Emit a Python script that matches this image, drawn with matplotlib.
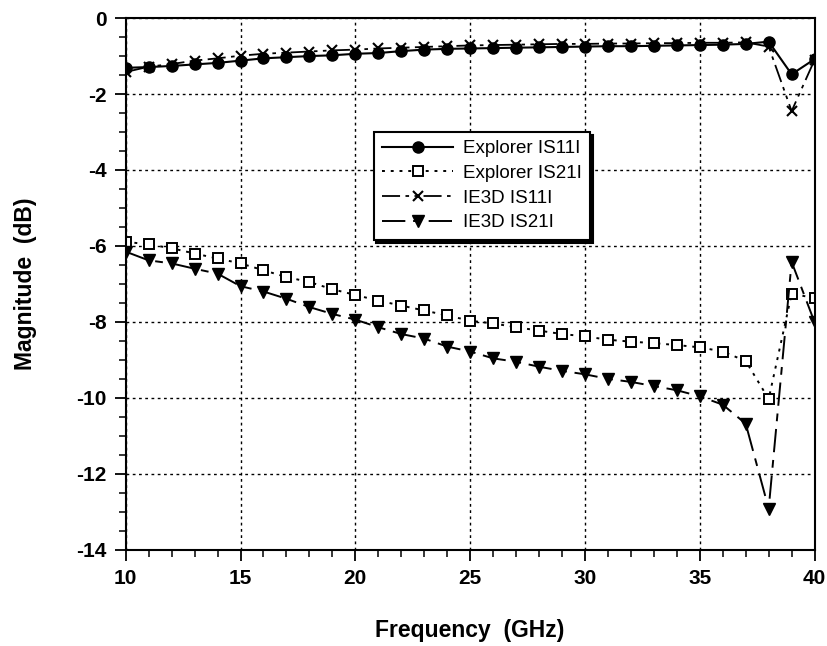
import matplotlib
matplotlib.use("Agg")
import matplotlib.pyplot as plt
from matplotlib.ticker import MultipleLocator

plt.rcParams['font.family'] = ['Liberation Sans', 'DejaVu Sans']
plt.rcParams['axes.unicode_minus'] = False

freq = list(range(10, 41))

explorer_s11 = [-1.31, -1.29, -1.26, -1.22, -1.18, -1.12, -1.06, -1.03, -1.00, -0.98,
                -0.94, -0.92, -0.87, -0.83, -0.81, -0.80, -0.79, -0.78, -0.77, -0.76,
                -0.75, -0.74, -0.74, -0.73, -0.72, -0.71, -0.70, -0.68, -0.62, -1.48,
                -1.08]
explorer_s21 = [-5.89, -5.96, -6.06, -6.20, -6.33, -6.46, -6.64, -6.82, -6.95, -7.14,
                -7.29, -7.44, -7.57, -7.70, -7.83, -7.97, -8.04, -8.14, -8.23, -8.32,
                -8.38, -8.47, -8.52, -8.56, -8.61, -8.67, -8.78, -9.03, -10.03, -7.26,
                -7.37]
ie3d_s11 = [-1.42, -1.28, -1.21, -1.12, -1.06, -0.99, -0.94, -0.91, -0.88, -0.85,
            -0.83, -0.80, -0.78, -0.76, -0.74, -0.72, -0.71, -0.70, -0.69, -0.68,
            -0.68, -0.67, -0.67, -0.66, -0.66, -0.65, -0.65, -0.64, -0.75, -2.45,
            -1.10]
ie3d_s21 = [-6.15, -6.38, -6.46, -6.60, -6.73, -7.06, -7.20, -7.39, -7.61, -7.79,
            -7.94, -8.14, -8.32, -8.44, -8.65, -8.78, -8.96, -9.05, -9.18, -9.29,
            -9.38, -9.50, -9.58, -9.69, -9.80, -9.96, -10.18, -10.68, -12.92, -6.42,
            -8.01]

fig = plt.figure(figsize=(8.27, 6.46), dpi=100)
ax = fig.add_axes([0.152, 0.149, 0.833, 0.823])

ax.plot(freq, explorer_s11, color='black', lw=1.5, linestyle='-',
        marker='o', ms=8, label='Explorer IS11I')
ax.plot(freq, explorer_s21, color='black', lw=1.4, linestyle=(0, (1.5, 3)),
        marker='s', ms=7, mfc='white', mec='black', mew=1.4, label='Explorer IS21I')
ax.plot(freq, ie3d_s11, color='black', lw=1.3, linestyle=(0, (10, 3, 2, 3, 2, 3)),
        marker='x', ms=7, mew=1.5, label='IE3D IS11I')
ax.plot(freq, ie3d_s21, color='black', lw=1.4, linestyle=(0, (12, 4, 4, 4)),
        marker='v', ms=9, label='IE3D IS21I')

ax.set_xlim(10, 40)
ax.set_ylim(-14, 0)
ax.xaxis.set_major_locator(MultipleLocator(5))
ax.xaxis.set_minor_locator(MultipleLocator(1))
ax.yaxis.set_major_locator(MultipleLocator(2))
ax.yaxis.set_minor_locator(MultipleLocator(0.5))
ax.tick_params(which='major', direction='out', length=8, width=1.3, labelsize=15, pad=6)
ax.tick_params(which='minor', direction='out', length=5, width=1.1)
for lab in ax.get_xticklabels() + ax.get_yticklabels():
    lab.set_fontweight('bold')

ax.grid(True, which='major', color='black', linestyle=(0, (2, 2.5)), linewidth=1)
for s in ax.spines.values():
    s.set_linewidth(1.5)

ax.set_xlabel('Frequency  (GHz)', fontsize=16.5, fontweight='bold', labelpad=22)
ax.set_ylabel('Magnitude  (dB)', fontsize=16.5, fontweight='bold', labelpad=28)

leg = ax.legend(loc='upper left', bbox_to_anchor=(0.36, 0.786), fontsize=13.5,
                handlelength=3.8, frameon=True, fancybox=False, edgecolor='black',
                framealpha=1, borderpad=0.45, labelspacing=0.4, borderaxespad=0,
                handletextpad=0.5, shadow={'color': 'black', 'alpha': 1})
leg.get_frame().set_linewidth(1.5)

fig.savefig('out.png', dpi=100)
